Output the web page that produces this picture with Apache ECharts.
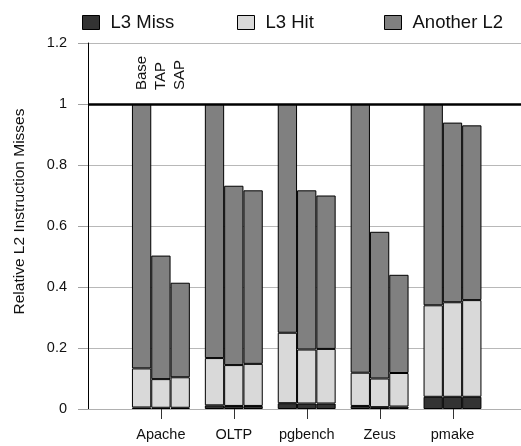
<!DOCTYPE html>
<html>
<head>
<meta charset="utf-8">
<script src="https://cdn.jsdelivr.net/npm/echarts@6/dist/echarts.min.js"></script>
<style>
  html, body { margin: 0; padding: 0; background: #fff; overflow: hidden; }
  #chart { width: 521px; height: 446px; }
</style>
</head>
<body>
<div id="chart"></div>
<script>
// Workloads along the x axis
const workloads = ['Apache', 'OLTP', 'pgbench', 'Zeus', 'pmake'];
// Prefetch configurations, one bar each per workload
const configs = ['Base', 'TAP', 'SAP'];
// Stack components (bottom to top)
const components = ['L3 Miss', 'L3 Hit', 'Another L2'];

// Segment heights per configuration, in workload order
const baseMiss  = [0.005, 0.012, 0.019, 0.010, 0.040];
const baseHit   = [0.128, 0.155, 0.231, 0.109, 0.300];
const baseOther = [0.867, 0.833, 0.750, 0.881, 0.660];

const tapMiss   = [0.004, 0.010, 0.018, 0.006, 0.040];
const tapHit    = [0.094, 0.134, 0.177, 0.094, 0.310];
const tapOther  = [0.405, 0.588, 0.522, 0.481, 0.589];

const sapMiss   = [0.004, 0.010, 0.018, 0.008, 0.040];
const sapHit    = [0.100, 0.138, 0.179, 0.110, 0.317];
const sapOther  = [0.310, 0.569, 0.503, 0.322, 0.573];

// Y axis ticks
const yMin = 0, yMax = 1.2, yStep = 0.2;
// Reference level drawn as a heavy rule
const baselineLevel = 1;

const segments = {
  Base: [baseMiss, baseHit, baseOther],
  TAP:  [tapMiss, tapHit, tapOther],
  SAP:  [sapMiss, sapHit, sapOther]
};

const colors = { 'L3 Miss': '#333333', 'L3 Hit': '#d9d9d9', 'Another L2': '#808080' };
const FONT = 'Liberation Sans, Arial, Helvetica, sans-serif';

// Blank slots at both ends leave room between the value axis and the first group
const padL = '', padR = ' ';
const axisCats = [padL].concat(workloads, [padR]);
const pad = arr => ['-'].concat(arr, ['-']);

const series = [];
configs.forEach(cfg => {
  components.forEach((comp, ci) => {
    const s = {
      type: 'bar',
      name: comp,
      stack: cfg,
      barWidth: 19.3,
      barGap: '0%',
      data: pad(segments[cfg][ci]),
      itemStyle: { color: colors[comp], borderColor: '#000', borderWidth: 1 },
      emphasis: { disabled: true },
      animation: false
    };
    if (ci === components.length - 1) {
      // Configuration name written vertically above the first workload's bar
      s.markPoint = {
        symbol: 'circle',
        symbolSize: 0,
        silent: true,
        animation: false,
        data: [{ coord: [workloads[0], baselineLevel] }],
        label: {
          show: true,
          formatter: cfg,
          position: 'top',
          distance: 14,
          rotate: 90,
          align: 'left',
          verticalAlign: 'middle',
          fontFamily: FONT,
          fontSize: 15,
          color: '#111'
        }
      };
    }
    if (cfg === 'Base' && ci === 0) {
      s.markLine = {
        silent: true,
        symbol: ['none', 'none'],
        animation: false,
        label: { show: false },
        lineStyle: { color: '#000', width: 2.6, type: 'solid' },
        data: [{ yAxis: baselineLevel }]
      };
    }
    series.push(s);
  });
});

// Downward tick marks under each workload, placed through the category scale
series.push({
  type: 'custom',
  silent: true,
  clip: false,
  z: 20,
  animation: false,
  data: workloads.map(w => [w, yMin]),
  encode: { x: 0, y: 1 },
  renderItem: (params, api) => {
    const p = api.coord([api.value(0), api.value(1)]);
    const x = Math.round(p[0]) + 0.5;
    return {
      type: 'line',
      shape: { x1: x, y1: p[1], x2: x, y2: p[1] + 10 },
      style: { stroke: '#333', lineWidth: 1 }
    };
  }
});

const legendCommon = {
  orient: 'horizontal',
  top: 13,
  padding: 0,
  icon: 'rect',
  itemWidth: 17,
  itemHeight: 14,
  selectedMode: false,
  itemStyle: { borderColor: '#000', borderWidth: 1 },
  textStyle: { fontFamily: FONT, fontSize: 18.5, color: '#111', padding: [0, 0, 0, 6] }
};

const option = {
  backgroundColor: '#fff',
  animation: false,
  legend: [
    Object.assign({}, legendCommon, { left: 82, data: [components[0]] }),
    Object.assign({}, legendCommon, { left: 237, data: [components[1]] }),
    Object.assign({}, legendCommon, { left: 384, data: [components[2]] })
  ],
  grid: {
    left: 88, top: 43, bottom: 37, width: 437.4,
    containLabel: false,
    outerBoundsMode: 'none'
  },
  xAxis: {
    type: 'category',
    data: axisCats,
    boundaryGap: false,
    axisLine: { show: true, lineStyle: { color: '#b0b0b0', width: 1 } },
    axisTick: { show: false },
    axisLabel: {
      fontFamily: FONT, fontSize: 14.5, color: '#111', margin: 18,
      interval: 0
    },
    splitLine: { show: false }
  },
  yAxis: {
    type: 'value',
    min: yMin,
    max: yMax,
    interval: yStep,
    name: 'Relative L2 Instruction Misses',
    nameLocation: 'middle',
    nameGap: 60,
    nameTextStyle: { fontFamily: FONT, fontSize: 15.5, color: '#111', padding: [0, 0, 0, 29] },
    axisLine: { show: true, lineStyle: { color: '#000', width: 1 } },
    axisTick: { show: true, length: 10, lineStyle: { color: '#a0a0a0' } },
    axisLabel: { fontFamily: FONT, fontSize: 14.5, color: '#111', margin: 21 },
    splitLine: { show: true, lineStyle: { color: '#b8b8b8', width: 1 } }
  },
  series: series
};

const chart = echarts.init(document.getElementById('chart'), null, { renderer: 'canvas' });
chart.setOption(option);
</script>
</body>
</html>
